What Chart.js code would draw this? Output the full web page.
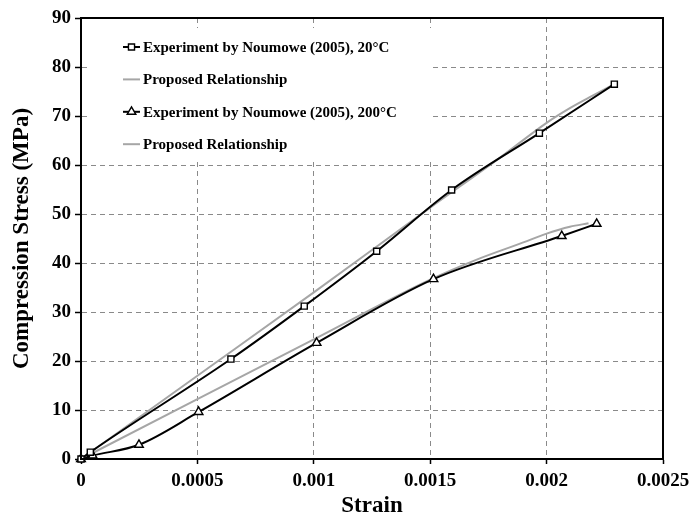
<!DOCTYPE html>
<html>
<head>
<meta charset="utf-8">
<script src="https://cdn.jsdelivr.net/npm/chart.js@4/dist/chart.umd.min.js"></script>
<style>
  body { margin: 0; background: #fff; }
  canvas { display: block; }
</style>
</head>
<body>
<canvas id="stressChart" width="692" height="522"></canvas>
<script>
// experiment, 20 C
var strain20 = [0, 0.00004, 0.000644, 0.000959, 0.00127, 0.001592, 0.001969, 0.002291];
var stress20 = [0, 1.4, 20.4, 31.2, 42.4, 54.9, 66.5, 76.5];
// proposed relationship, 20 C
var fitStrain20 = [0, 0.0005, 0.001, 0.0015, 0.0018, 0.002, 0.0021, 0.0022, 0.002291];
var fitStress20 = [0, 17, 34, 51.3, 61.5, 68.6, 71.6, 74.2, 76.5];
// experiment, 200 C
var strain200 = [0, 0.00005, 0.000249, 0.000505, 0.001012, 0.001514, 0.002065, 0.002215];
var stress200 = [0, 0.7, 2.9, 9.6, 23.7, 36.7, 45.5, 48.0];
// proposed relationship, 200 C
var fitStrain200 = [0, 0.0005, 0.001, 0.0015, 0.0017, 0.0019, 0.002, 0.0021, 0.00218];
var fitStress200 = [0, 12.2, 24.4, 36.6, 40.7, 44.2, 46.0, 47.4, 48.1];

var labels = [
    'Experiment by Noumowe (2005), 20°C',
    'Proposed Relationship',
    'Experiment by Noumowe (2005), 200°C',
    'Proposed Relationship'
];

var serif = '"Liberation Serif", "Times New Roman", serif';

function toPoints(xs, ys) {
    return xs.map(function(x, i) { return { x: x, y: ys[i] }; });
}

// draw a small open marker (used by the legend)
function marker(ctx, style, x, y, r) {
    ctx.beginPath();
    if (style === 'rect') {
        var s = r * Math.SQRT1_2;
        ctx.rect(x - s, y - s, 2 * s, 2 * s);
    } else {
        ctx.moveTo(x, y - r);
        ctx.lineTo(x + r * Math.sin(Math.PI / 3), y + r / 2);
        ctx.lineTo(x - r * Math.sin(Math.PI / 3), y + r / 2);
        ctx.closePath();
    }
    ctx.fillStyle = '#fff';
    ctx.fill();
    ctx.stroke();
}

// legend with white box sitting inside the plot, top left
var legendBox = {
    id: 'legendBox',
    beforeDatasetsDraw: function(chart) {
        var ctx = chart.ctx;
        var a = chart.chartArea;
        var x = a.left + 7, y = a.top + 10;
        ctx.save();
        ctx.fillStyle = '#fff';
        ctx.fillRect(x, y, 344, 133);
        ctx.font = 'bold 15px ' + serif;
        ctx.textBaseline = 'middle';
        chart.data.datasets.forEach(function(ds, i) {
            var cy = y + 19 + i * 32.4;
            ctx.strokeStyle = ds.borderColor;
            ctx.lineWidth = ds.borderWidth;
            ctx.beginPath();
            ctx.moveTo(x + 35, cy);
            ctx.lineTo(x + 52, cy);
            ctx.stroke();
            if (ds.pointRadius > 0) {
                ctx.lineWidth = 1.4;
                marker(ctx, ds.pointStyle, x + 43.5, cy, ds.pointRadius);
            }
            ctx.fillStyle = '#000';
            ctx.fillText(ds.label, x + 55, cy + 1);
        });
        ctx.restore();
    },
    afterDraw: function(chart) {
        var ctx = chart.ctx;
        var a = chart.chartArea;
        ctx.save();
        ctx.strokeStyle = '#000';
        ctx.lineWidth = 2;
        ctx.strokeRect(a.left, a.top, a.right - a.left, a.bottom - a.top);
        ctx.restore();
    }
};

var ctx = document.getElementById('stressChart').getContext('2d');

var chart = new Chart(ctx, {
    type: 'line',
    data: {
        datasets: [{
            label: labels[0],
            data: toPoints(strain20, stress20),
            borderColor: '#000',
            borderWidth: 2,
            pointStyle: 'rect',
            pointRadius: 4.3,
            pointBorderWidth: 1.4,
            pointBackgroundColor: '#fff',
            pointBorderColor: '#000',
            cubicInterpolationMode: 'monotone',
            clip: false
        }, {
            label: labels[1],
            data: toPoints(fitStrain20, fitStress20),
            borderColor: '#a6a6a6',
            borderWidth: 2,
            pointRadius: 0,
            cubicInterpolationMode: 'monotone',
            clip: false
        }, {
            label: labels[2],
            data: toPoints(strain200, stress200),
            borderColor: '#000',
            borderWidth: 2,
            pointStyle: 'triangle',
            pointRadius: 5,
            pointBorderWidth: 1.4,
            pointBackgroundColor: '#fff',
            pointBorderColor: '#000',
            cubicInterpolationMode: 'monotone',
            clip: false
        }, {
            label: labels[3],
            data: toPoints(fitStrain200, fitStress200),
            borderColor: '#a6a6a6',
            borderWidth: 2,
            pointRadius: 0,
            cubicInterpolationMode: 'monotone',
            clip: false
        }]
    },
    options: {
        responsive: false,
        animation: false,
        layout: { padding: { top: 18, right: 29, left: 0, bottom: 0 } },
        plugins: {
            legend: { display: false },
            tooltip: { enabled: false }
        },
        scales: {
            x: {
                type: 'linear',
                min: 0,
                max: 0.0025,
                afterFit: function(scale) {
                    scale.height = 63;
                    scale.paddingLeft = 0;
                    scale.paddingRight = 0;
                },
                ticks: {
                    stepSize: 0.0005,
                    color: '#000',
                    padding: 6,
                    maxRotation: 0,
                    font: { family: serif, size: 19, weight: 'bold' },
                    callback: function(v) { return String(Number(v.toFixed(4))); }
                },
                grid: {
                    color: '#8a8a8a',
                    lineWidth: 1,
                    tickLength: 5,
                    tickColor: '#000',
                    tickWidth: 1.5,
                    tickBorderDash: []
                },
                border: { color: '#000', width: 2, dash: [5, 4] },
                title: {
                    display: true,
                    text: 'Strain',
                    color: '#000',
                    font: { family: serif, size: 23, weight: 'bold' },
                    padding: { top: 0, bottom: 2 }
                }
            },
            y: {
                min: 0,
                max: 90,
                afterFit: function(scale) { scale.width = 81; },
                ticks: {
                    stepSize: 10,
                    color: '#000',
                    padding: 4,
                    font: { family: serif, size: 19, weight: 'bold' }
                },
                grid: {
                    color: '#8a8a8a',
                    lineWidth: 1,
                    tickLength: 6,
                    tickColor: '#000',
                    tickWidth: 1.5,
                    tickBorderDash: []
                },
                border: { color: '#000', width: 2, dash: [5, 4] },
                title: {
                    display: true,
                    text: 'Compression Stress (MPa)',
                    color: '#000',
                    font: { family: serif, size: 23, weight: 'bold' },
                    padding: { top: 8, bottom: 0 }
                }
            }
        }
    },
    plugins: [legendBox]
});
</script>
</body>
</html>
